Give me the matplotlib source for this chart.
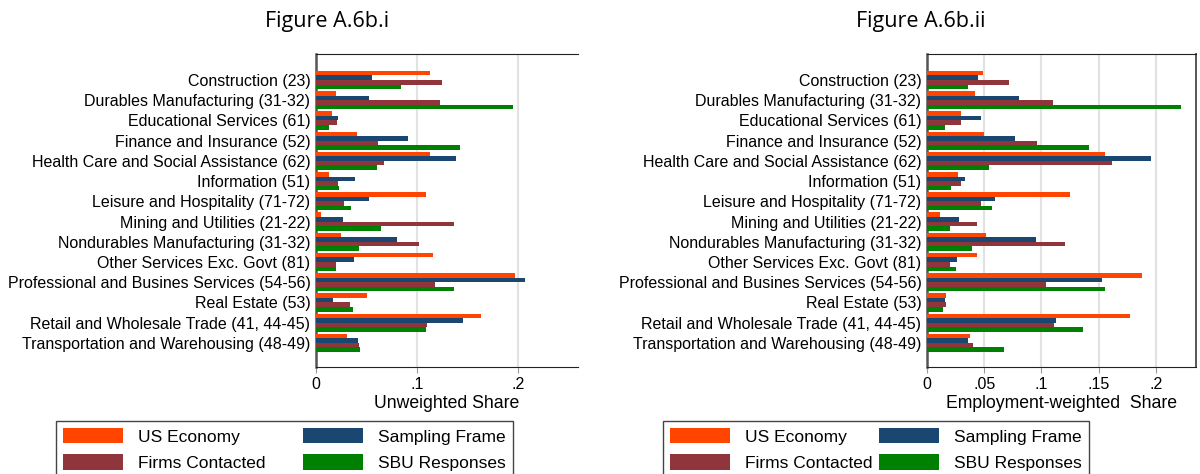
import numpy as np
import matplotlib.pyplot as plt

industries = [
    "Construction (23)",
    "Durables Manufacturing (31-32)",
    "Educational Services (61)",
    "Finance and Insurance (52)",
    "Health Care and Social Assistance (62)",
    "Information (51)",
    "Leisure and Hospitality (71-72)",
    "Mining and Utilities (21-22)",
    "Nondurables Manufacturing (31-32)",
    "Other Services Exc. Govt (81)",
    "Professional and Busines Services (54-56)",
    "Real Estate (53)",
    "Retail and Wholesale Trade (41, 44-45)",
    "Transportation and Warehousing (48-49)",
]

series_names = ["US Economy", "Sampling Frame", "Firms Contacted", "SBU Responses"]
series_colors = ["#ff4500", "#1a476f", "#90353b", "#008000"]

# unweighted shares
uw_us = [0.113, 0.020, 0.016, 0.041, 0.113, 0.013, 0.109, 0.005, 0.025, 0.116, 0.197, 0.050, 0.163, 0.031]
uw_frame = [0.055, 0.052, 0.022, 0.091, 0.139, 0.039, 0.052, 0.027, 0.080, 0.038, 0.207, 0.017, 0.146, 0.042]
uw_contacted = [0.125, 0.123, 0.021, 0.061, 0.067, 0.022, 0.028, 0.137, 0.102, 0.020, 0.118, 0.034, 0.110, 0.043]
uw_sbu = [0.084, 0.195, 0.013, 0.143, 0.060, 0.023, 0.035, 0.064, 0.043, 0.020, 0.137, 0.037, 0.109, 0.044]

# employment-weighted shares
ew_us = [0.049, 0.042, 0.030, 0.050, 0.156, 0.027, 0.125, 0.011, 0.052, 0.044, 0.188, 0.017, 0.177, 0.038]
ew_frame = [0.045, 0.080, 0.047, 0.077, 0.196, 0.033, 0.059, 0.028, 0.095, 0.026, 0.153, 0.016, 0.113, 0.036]
ew_contacted = [0.072, 0.110, 0.030, 0.096, 0.162, 0.030, 0.047, 0.044, 0.121, 0.020, 0.104, 0.017, 0.111, 0.040]
ew_sbu = [0.036, 0.222, 0.016, 0.142, 0.054, 0.021, 0.057, 0.020, 0.039, 0.025, 0.156, 0.014, 0.136, 0.067]

plt.rcParams['font.family'] = ['Liberation Sans', 'DejaVu Sans']

fig = plt.figure(figsize=(12, 4.74), dpi=100)


def draw_panel(ax, data, ticks, ticklabels, xmax, xlabel, right_spine):
    pos = np.arange(len(industries))
    h = 0.225
    for k, vals in enumerate(data):
        ax.barh(pos + (k - 1.5) * h, vals, height=h, color=series_colors[k],
                label=series_names[k], zorder=3)
    ax.set_ylim(len(industries) - 1 + 1.19, -1.285)
    ax.set_xlim(0, xmax)
    ax.set_yticks(pos)
    ax.set_yticklabels(industries, fontsize=11.5)
    ax.tick_params(axis='y', length=0, pad=4)
    ax.set_xticks(ticks)
    ax.set_xticklabels(ticklabels, fontsize=11.5)
    ax.tick_params(axis='x', length=4, color='#999999', pad=3)
    ax.xaxis.grid(True, color='#e2e2e2', linewidth=1.5, zorder=0)
    ax.set_xlabel(xlabel, fontsize=12.7, labelpad=2)
    ax.spines['left'].set_color('#555555')
    ax.spines['left'].set_linewidth(1.8)
    ax.spines['bottom'].set_color('#222222')
    ax.spines['top'].set_color('#222222')
    if right_spine:
        ax.spines['right'].set_color('#555555')
        ax.spines['right'].set_linewidth(1.4)
    else:
        ax.spines['right'].set_visible(False)


ax1 = fig.add_axes([316 / 1200, 1 - 367 / 474, 262 / 1200, 313 / 474])
draw_panel(ax1, [uw_us, uw_frame, uw_contacted, uw_sbu],
           [0, 0.1, 0.2], ["0", ".1", ".2"], 0.2594, "Unweighted Share", False)

ax2 = fig.add_axes([927 / 1200, 1 - 367 / 474, 269 / 1200, 313 / 474])
draw_panel(ax2, [ew_us, ew_frame, ew_contacted, ew_sbu],
           [0, 0.05, 0.1, 0.15, 0.2], ["0", ".05", ".1", ".15", ".2"], 0.2351,
           "Employment-weighted  Share", True)

fig.text(327 / 1200, 1 - 22 / 474, "Figure A.6b.i", ha='center', va='center',
         fontsize=15.5, family=['Open Sans', 'DejaVu Sans'])
fig.text(921 / 1200, 1 - 22 / 474, "Figure A.6b.ii", ha='center', va='center',
         fontsize=15.5, family=['Open Sans', 'DejaVu Sans'])


def add_legend(ax, x0, x1):
    handles, labels = ax.get_legend_handles_labels()
    order = [0, 2, 1, 3]
    leg = fig.legend([handles[i] for i in order], [labels[i] for i in order],
                     loc='upper left', ncol=2, mode='expand',
                     bbox_to_anchor=(x0 / 1200, 0, (x1 - x0) / 1200, 1 - 421 / 474),
                     borderaxespad=0,
                     fontsize=12.5, handlelength=3.45, handleheight=1.0,
                     handletextpad=0.86, labelspacing=0.55, borderpad=0.4,
                     fancybox=False, edgecolor='#444444', framealpha=1)
    leg.get_frame().set_linewidth(1.0)
    return leg


add_legend(ax1, 56, 513)
add_legend(ax2, 663, 1089)

fig.savefig("out.png", dpi=100)
